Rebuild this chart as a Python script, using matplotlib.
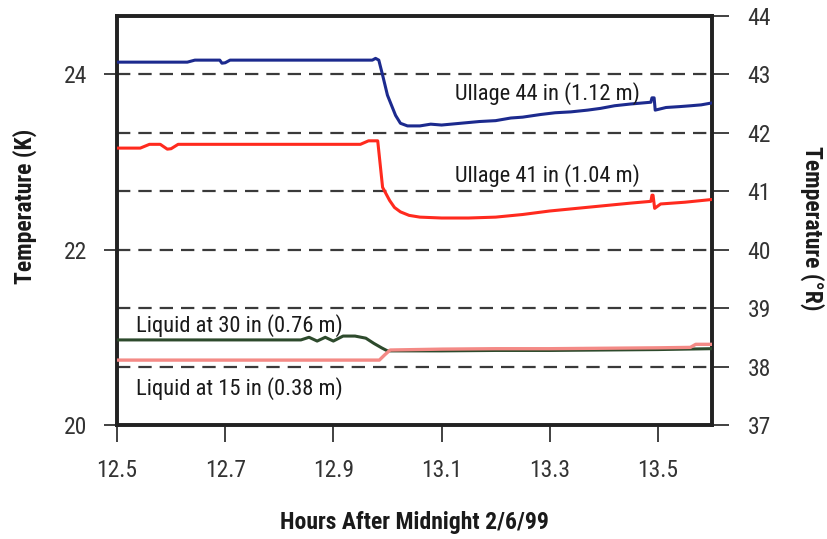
import matplotlib
matplotlib.use("Agg")
import matplotlib.pyplot as plt
from matplotlib import font_manager

# Pick a condensed sans if one is available
available = {f.name for f in font_manager.fontManager.ttflist}
family = [f for f in ["Liberation Sans Narrow", "Roboto Condensed", "Liberation Sans", "DejaVu Sans"] if f in available]
plt.rcParams["font.family"] = family

# Ullage 44 in (1.12 m) sensor
ull44_h = [12.50, 12.63, 12.644, 12.69, 12.694, 12.70, 12.709, 12.972, 12.978, 12.984,
           12.991, 13.000, 13.015, 13.024, 13.037, 13.06, 13.08, 13.10, 13.135, 13.17,
           13.20, 13.228, 13.25, 13.283, 13.31, 13.339, 13.37, 13.394, 13.42, 13.45,
           13.487, 13.489, 13.493, 13.495, 13.515, 13.54, 13.561, 13.58, 13.598]
ull44_k = [24.137, 24.137, 24.16, 24.16, 24.125, 24.13, 24.16, 24.16, 24.18, 24.16,
           23.99, 23.76, 23.53, 23.44, 23.41, 23.41, 23.43, 23.42, 23.44, 23.46,
           23.47, 23.50, 23.51, 23.54, 23.56, 23.57, 23.59, 23.61, 23.64, 23.66,
           23.68, 23.73, 23.73, 23.59, 23.62, 23.63, 23.64, 23.65, 23.67]

# Ullage 41 in (1.04 m) sensor
ull41_h = [12.50, 12.543, 12.56, 12.58, 12.593, 12.60, 12.613, 12.95, 12.965, 12.982,
           12.991, 13.004, 13.013, 13.024, 13.04, 13.06, 13.10, 13.15, 13.20, 13.25,
           13.30, 13.35, 13.40, 13.45, 13.487, 13.489, 13.491, 13.494, 13.505, 13.55, 13.598]
ull41_k = [23.157, 23.157, 23.20, 23.20, 23.145, 23.15, 23.20, 23.20, 23.24, 23.24,
           22.71, 22.56, 22.48, 22.43, 22.39, 22.37, 22.36, 22.36, 22.37, 22.40,
           22.44, 22.47, 22.50, 22.53, 22.55, 22.62, 22.62, 22.47, 22.52, 22.54, 22.57]

# Liquid at 30 in (0.76 m) sensor
liq30_h = [12.50, 12.84, 12.855, 12.87, 12.885, 12.90, 12.918, 12.94, 12.96, 12.975,
           12.99, 13.00, 13.10, 13.20, 13.30, 13.40, 13.50, 13.598]
liq30_k = [20.97, 20.97, 21.00, 20.957, 21.00, 20.957, 21.014, 21.014, 20.99, 20.93,
           20.877, 20.845, 20.845, 20.85, 20.85, 20.855, 20.86, 20.87]

# Liquid at 15 in (0.38 m) sensor
liq15_h = [12.50, 12.985, 12.995, 13.005, 13.10, 13.20, 13.30, 13.40, 13.50, 13.56,
           13.57, 13.598]
liq15_k = [20.74, 20.74, 20.80, 20.855, 20.865, 20.87, 20.87, 20.875, 20.88, 20.885,
           20.92, 20.92]

x_ticks = [12.5, 12.7, 12.9, 13.1, 13.3, 13.5]
k_ticks = [20, 22, 24]
r_ticks = [37, 38, 39, 40, 41, 42, 43, 44]
grid_r = [38, 39, 40, 41, 42, 43]

labels = ["Ullage 44 in (1.12 m)", "Ullage 41 in (1.04 m)",
          "Liquid at 30 in (0.76 m)", "Liquid at 15 in (0.38 m)"]
label_pos = [(13.124, 23.78), (13.124, 22.85), (12.535, 21.13), (12.535, 20.42)]

fig = plt.figure(figsize=(8.28, 5.39), dpi=100)
ax = fig.add_axes([0.1413, 0.2115, 0.7186, 0.7594])
ax2 = ax.twinx()

ax.set_xlim(12.5, 13.6)
ax.set_ylim(20, 24.6667)   # 37–44 °R on the right
ax2.set_ylim(37, 44)

for r in grid_r:
    ax2.axhline(r, color="#3a3a3a", lw=1.6, ls=(0, (6, 3.6)), zorder=1)

ax.plot(ull44_h, ull44_k, color="#1c2a8e", lw=2.2, zorder=3)
ax.plot(ull41_h, ull41_k, color="#ff2a1e", lw=2.2, zorder=3)
ax.plot(liq30_h, liq30_k, color="#2d4a2c", lw=2.2, zorder=3)
ax.plot(liq15_h, liq15_k, color="#f48a86", lw=2.4, zorder=4)
ax.set_zorder(ax2.get_zorder() + 1)
ax.patch.set_visible(False)

for txt, (hx, ky) in zip(labels, label_pos):
    ax.text(hx, ky, txt, fontsize=16.2, color="#1a1a1a", va="center", ha="left", zorder=5)

ax.set_xticks(x_ticks)
ax.set_xticklabels([f"{v:.1f}" for v in x_ticks])
ax.set_yticks(k_ticks)
ax2.set_yticks(r_ticks)

ax.tick_params(axis="x", direction="out", length=12.5, width=1.3, pad=12,
               labelsize=17, colors="#333333")
ax.tick_params(axis="y", direction="out", length=9.5, width=1.3, pad=12,
               labelsize=17, colors="#333333")
ax2.tick_params(axis="y", direction="out", length=12.5, width=1.3, pad=13,
                labelsize=17, colors="#333333")

for a in (ax, ax2):
    for s in a.spines.values():
        s.set_linewidth(2.6)
        s.set_color("#222222")

ax.set_xlabel("Hours After Midnight 2/6/99", fontsize=17, fontweight="bold",
              color="#1a1a1a", va="center")
ax.xaxis.set_label_coords(0.50, -0.239)
ax.set_ylabel("Temperature (K)", fontsize=17, fontweight="bold", color="#1a1a1a",
              va="center")
ax.yaxis.set_label_coords(-0.155, 0.535)
ax2.set_ylabel("Temperature (°R)", fontsize=17, fontweight="bold", color="#1a1a1a",
               rotation=270, va="center")
ax2.yaxis.set_label_coords(1.168, 0.481)

fig.savefig("out.png", dpi=100, facecolor="white")
